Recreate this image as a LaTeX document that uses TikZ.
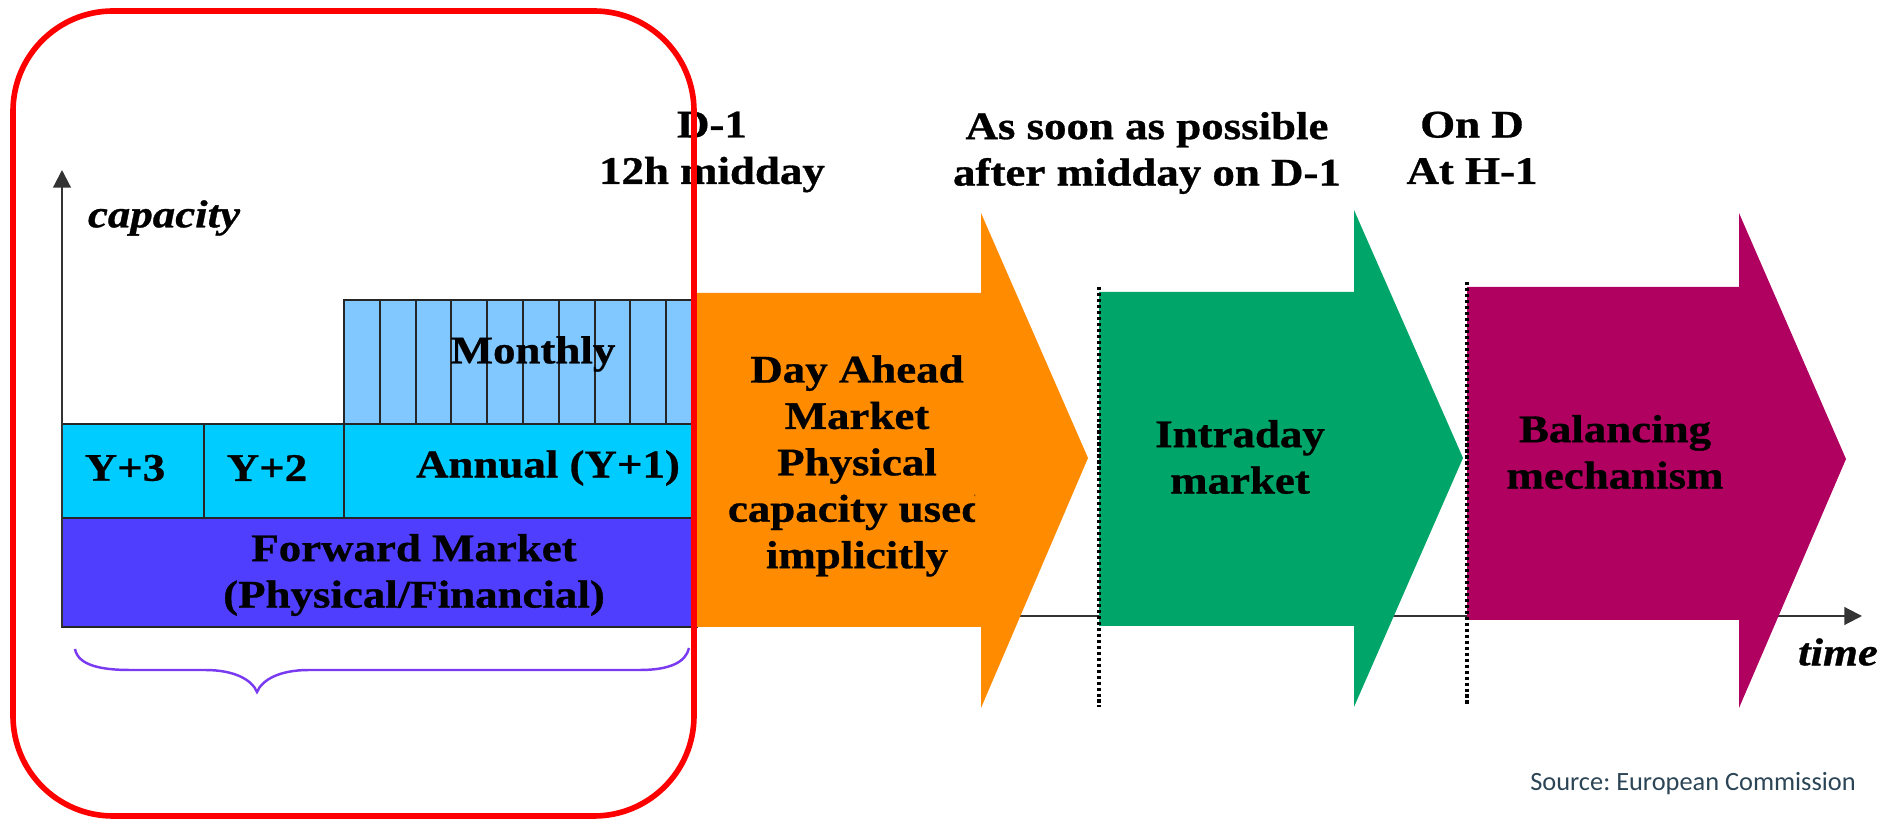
\documentclass[tikz,border=0pt]{standalone}
\usepackage{fontspec}
\newfontfamily\tfont[FakeStretch=1.15, BoldFeatures={FakeBold=0.8}, BoldItalicFeatures={FakeBold=0.8}]{Liberation Serif}
\newfontfamily\srcfont{Carlito}
\usetikzlibrary{arrows.meta}
\definecolor{fwd}{RGB}{80,62,255}
\definecolor{yrow}{RGB}{0,204,255}
\definecolor{mon}{RGB}{128,200,255}
\definecolor{ora}{RGB}{255,140,0}
\definecolor{grn}{RGB}{0,165,105}
\definecolor{mag}{RGB}{176,0,96}
\definecolor{brc}{RGB}{122,58,240}
\definecolor{srccol}{RGB}{44,69,86}
\definecolor{redbox}{RGB}{255,0,0}
\tikzset{
  cell/.style={draw=black!85, line width=0.55pt},
  lbl/.style={font=\tfont\bfseries\fontsize{11.1pt}{13.2pt}\selectfont, align=center, inner sep=0pt, text=black},
  itl/.style={font=\tfont\bfseries\itshape\fontsize{11.1pt}{13.2pt}\selectfont, inner sep=0pt},
  axisline/.style={draw=black!80, line width=0.6pt, -{Triangle[length=5pt,width=5pt]}},
  dotline/.style={draw=black, line width=1pt, dash pattern=on 0.9pt off 0.8pt},
  bracestyle/.style={draw=brc, line width=0.7pt},
  frame/.style={draw=redbox, line width=1.6pt, rounded corners=1.0cm}
}
\begin{document}
\frenchspacing
\begin{tikzpicture}[x=0.01cm,y=-0.01cm]
\useasboundingbox (0,0) rectangle (1899,822);
% boxes of the forward market part
\path[cell, fill=fwd] (62,518) rectangle (697,627);
\path[cell, fill=yrow] (62,424) rectangle (204,518);
\path[cell, fill=yrow] (204,424) rectangle (344,518);
\path[cell, fill=yrow] (344,424) rectangle (697,518);
\path[cell, fill=mon] (344,300) rectangle (697,424);
\foreach \i in {1,...,9} \draw[cell] (344+35.8*\i,300) -- (344+35.8*\i,424);
% time axis (under the arrows)
\coordinate (tstart) at (1000,616);
\coordinate (tend) at (1862,616);
\draw[axisline] (tstart) -- (tend);
% orange arrow
\fill[ora] (697,293) -- (981,293) -- (981,213) -- (1088,458) -- (981,708) -- (981,627) -- (697,627) -- cycle;
% green arrow
\fill[grn] (1099,292) -- (1354,292) -- (1354,210) -- (1463,458) -- (1354,707) -- (1354,626) -- (1099,626) -- cycle;
% magenta arrow
\fill[mag] (1467,287) -- (1739,287) -- (1739,213) -- (1846,459) -- (1739,708) -- (1739,620) -- (1467,620) -- cycle;
% dotted separators
\coordinate (d1t) at (1099,287);
\coordinate (d1b) at (1099,707);
\coordinate (d2t) at (1467,282);
\coordinate (d2b) at (1467,706);
\draw[dotline] (d1t) -- (d1b);
\draw[dotline] (d2t) -- (d2b);
% capacity axis
\coordinate (cbot) at (62,627);
\coordinate (ctop) at (62,170);
\draw[axisline] (cbot) -- (ctop);
% texts
\node[itl] (cap) at (164,218) {capacity};
\node[itl] (time) at (1838,652) {time};
\node[lbl] (monthly) at (533,354) {Monthly};
\node[lbl] (y3) at (125,468) {Y+3};
\node[lbl] (y2) at (267,468) {Y+2};
\node[lbl] (annual) at (548,468) {Annual (Y+1)};
\node[lbl] (fwdtxt) at (414,575) {Forward Market\\(Physical/Financial)};
\node[lbl] (t1) at (712,152) {D-1\\12h midday};
\node[lbl] (t2) at (1147,153) {As soon as possible\\after midday on D-1};
\node[lbl] (t3) at (1472,148) {On D\\At H-1};
\begin{scope}
\clip (697,200) rectangle (975,720);
\node[lbl] (dam) at (857,466) {Day Ahead\\Market\\Physical\\capacity used\\implicitly};
\end{scope}
\node[lbl] (intra) at (1240,457) {Intraday\\market};
\node[lbl] (bal) at (1615,452) {Balancing\\mechanism};
\node[font=\srcfont\fontsize{7.5pt}{9pt}\selectfont, text=srccol, inner sep=0pt] (src) at (1693,784) {Source: European Commission};
% brace
\draw[bracestyle] (75,649) .. controls (78,665) and (100,670) .. (130,670) -- (205,670)
  .. controls (235,670) and (252,680) .. (257,692)
  .. controls (262,680) and (279,670) .. (309,670) -- (640,670)
  .. controls (670,670) and (686,662) .. (689,648);
% red frame
\draw[frame] (13,11) rectangle (694,816);
\end{tikzpicture}
\end{document}
